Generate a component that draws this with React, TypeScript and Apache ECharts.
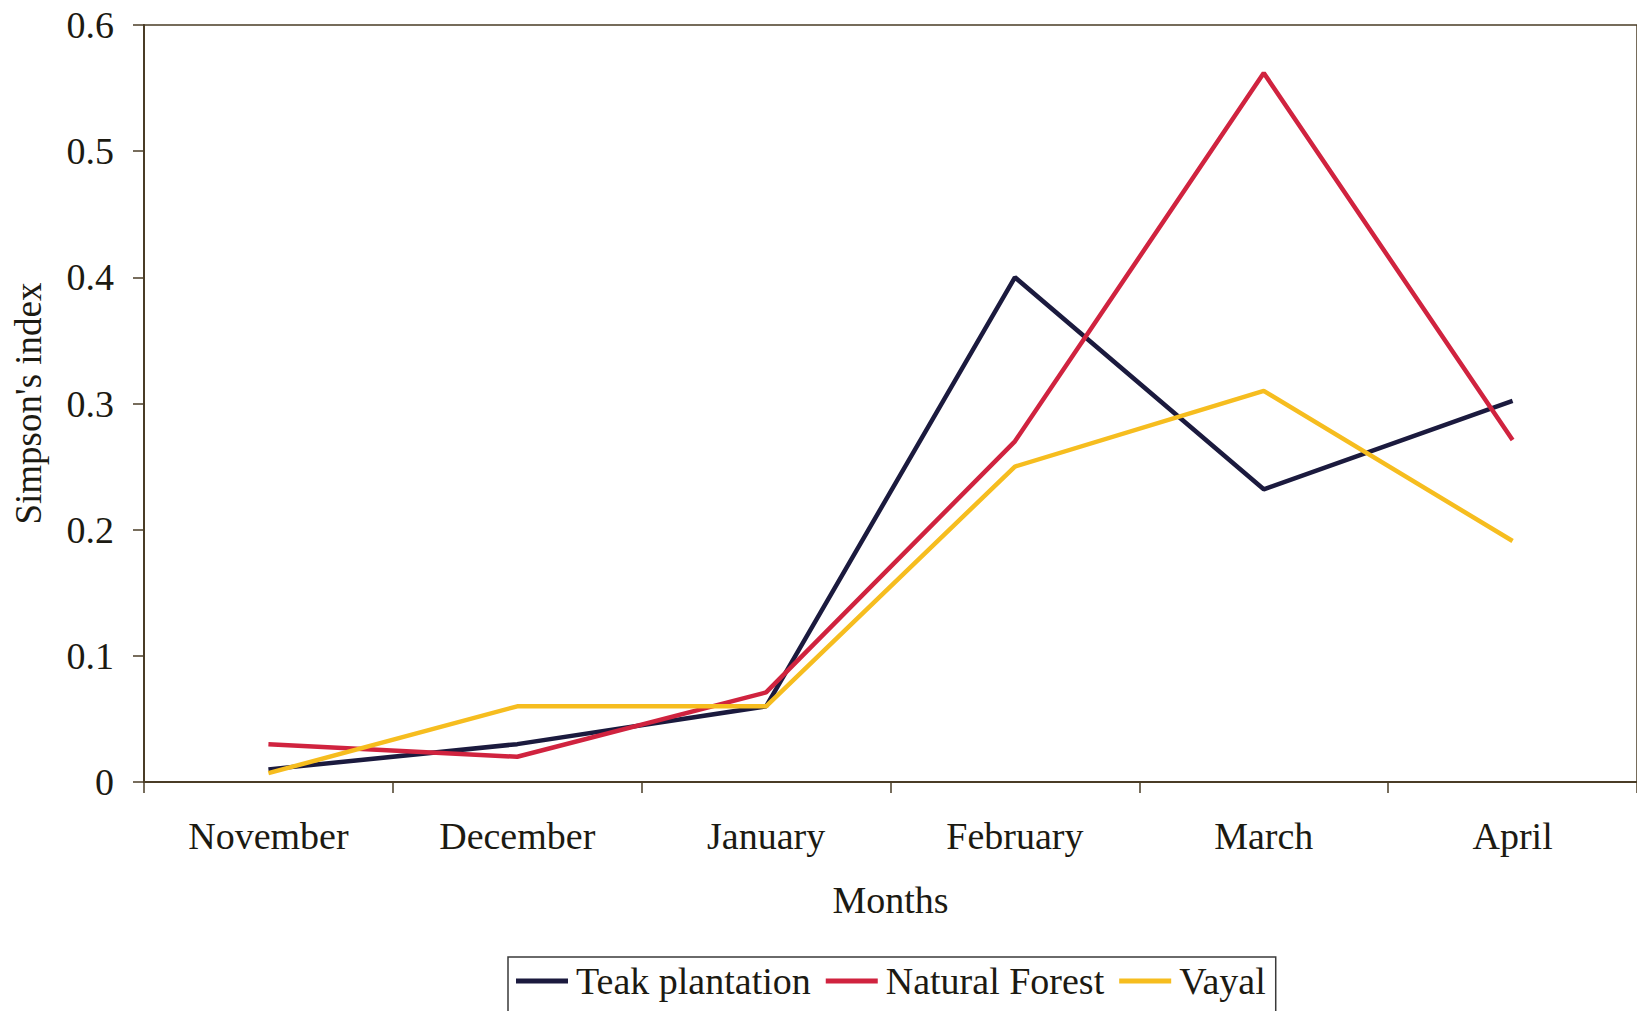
import React, { useEffect, useRef } from "react";
import * as echarts from "echarts";

const months = ["November", "December", "January", "February", "March", "April"];
const teak = [0.01, 0.03, 0.06, 0.4, 0.232, 0.302];
const natural = [0.03, 0.02, 0.071, 0.27, 0.562, 0.271];
const vayal = [0.007, 0.06, 0.06, 0.25, 0.31, 0.191];
const yTicks = [0, 0.1, 0.2, 0.3, 0.4, 0.5, 0.6];

const FONT = "'Liberation Serif', 'Times New Roman', serif";
const TEXT = "#1c1a12";
const AXIS = "#4a3c26";

export default function App() {
  const ref = useRef<HTMLDivElement>(null);
  useEffect(() => {
    const chart = echarts.init(ref.current!, null, { renderer: "svg" });
    const mk = (name: string, data: number[], color: string) => ({
      name,
      type: "line",
      data,
      symbol: "none",
      lineStyle: { color, width: 4.5 },
      itemStyle: { color },
    });
    chart.setOption({
      animation: false,
      backgroundColor: "#ffffff",
      textStyle: { fontFamily: FONT },
      grid: {
        left: 144,
        top: 25,
        width: 1494,
        height: 757,
        show: true,
        borderColor: AXIS,
        borderWidth: 1.5,
        containLabel: false,
      },
      legend: {
        left: 508,
        top: 957,
        padding: [5, 10, 14, 8],
        borderColor: "#3a3a3a",
        borderWidth: 1.5,
        itemGap: 15,
        itemWidth: 52,
        itemHeight: 5,
        icon: "rect",
        textStyle: { fontFamily: FONT, fontSize: 38, color: TEXT, padding: [0, 0, 0, 3] },
        data: ["Teak plantation", "Natural Forest", "Vayal"],
      },
      xAxis: {
        type: "category",
        data: months,
        boundaryGap: true,
        name: "Months",
        nameLocation: "middle",
        nameGap: 99,
        nameTextStyle: { fontFamily: FONT, fontSize: 38, color: TEXT },
        axisLine: { lineStyle: { color: AXIS, width: 2 } },
        axisTick: { show: true, length: 11, lineStyle: { color: AXIS, width: 1.5 } },
        axisLabel: { fontFamily: FONT, fontSize: 38, color: TEXT, margin: 35 },
        splitLine: { show: false },
      },
      yAxis: {
        type: "value",
        min: 0,
        max: 0.6,
        interval: 0.1,
        name: "Simpson's index",
        nameLocation: "middle",
        nameGap: 97,
        nameTextStyle: { fontFamily: FONT, fontSize: 37, color: TEXT },
        axisLine: { show: true, lineStyle: { color: AXIS, width: 2 } },
        axisTick: { show: true, length: 11, lineStyle: { color: AXIS, width: 1.5 } },
        axisLabel: {
          fontFamily: FONT,
          fontSize: 38,
          color: TEXT,
          margin: 30,
          formatter: (v: number) => {
            const t = yTicks.find((x) => Math.abs(x - v) < 1e-9);
            return t === undefined ? "" : String(t);
          },
        },
        splitLine: { show: false },
      },
      series: [
        mk("Teak plantation", teak, "#1b1a3e"),
        mk("Natural Forest", natural, "#d0233f"),
        mk("Vayal", vayal, "#f6bd1f"),
      ],
    });
    return () => chart.dispose();
  }, []);
  return (
    <div
      ref={ref}
      style={{ position: "fixed", left: 0, top: 0, width: 1637, height: 1011 }}
    />
  );
}
